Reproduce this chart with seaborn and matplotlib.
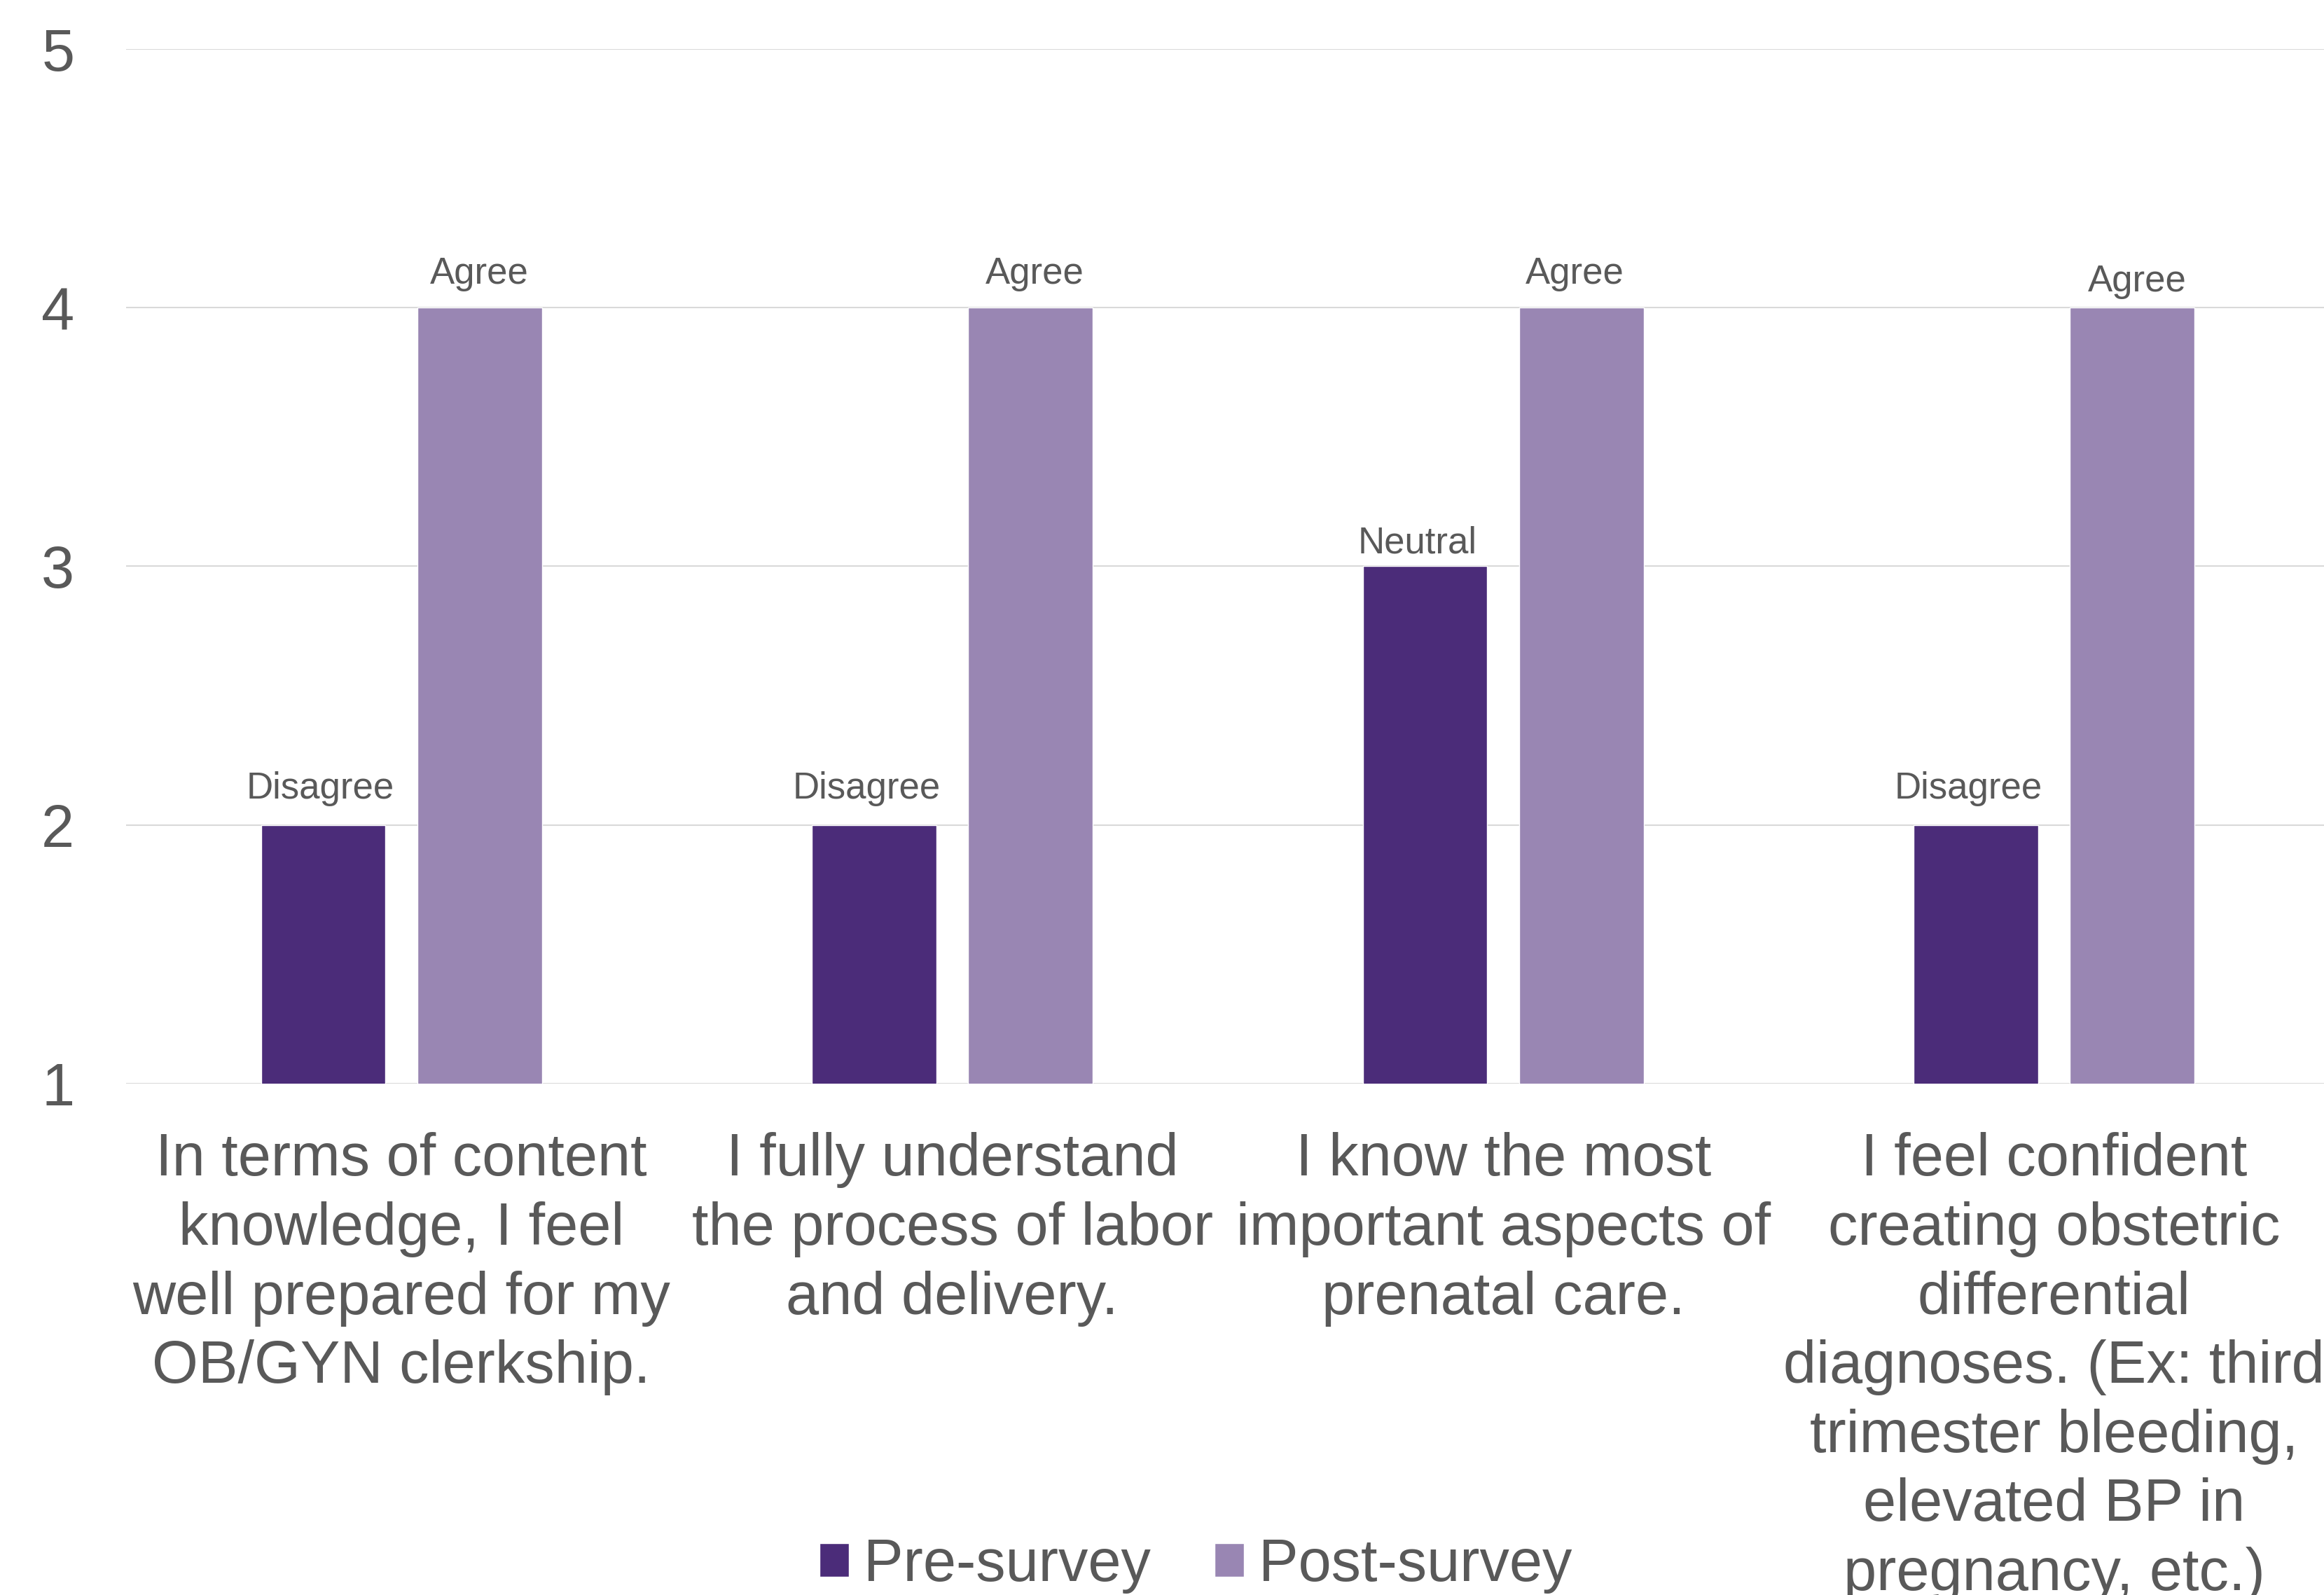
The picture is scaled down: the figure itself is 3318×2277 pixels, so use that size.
import pandas as pd
import matplotlib.pyplot as plt
import seaborn as sns

# Survey data (Likert scale 1-5)
questions = [
    "In terms of content\nknowledge, I feel\nwell prepared for my\nOB/GYN clerkship.",
    "I fully understand\nthe process of labor\nand delivery.",
    "I know the most\nimportant aspects of\nprenatal care.",
    "I feel confident\ncreating obstetric\ndifferential\ndiagnoses. (Ex: third\ntrimester bleeding,\nelevated BP in\npregnancy, etc.)",
]
pre_scores = [2, 2, 3, 2]
post_scores = [4, 4, 4, 4]
pre_labels = ["Disagree", "Disagree", "Neutral", "Disagree"]
post_labels = ["Agree", "Agree", "Agree", "Agree"]
series_names = ["Pre-survey", "Post-survey"]
y_ticks = [1, 2, 3, 4, 5]

df = pd.DataFrame({
    "Question": questions * 2,
    "Score": pre_scores + post_scores,
    "Survey": [series_names[0]] * 4 + [series_names[1]] * 4,
})

sns.set_style("white")
plt.rcParams["font.family"] = ["Liberation Sans", "DejaVu Sans"]
TEXT = "#595959"

fig = plt.figure(figsize=(33.18, 22.77), dpi=100)
ax = fig.add_axes([0.0542, 0.3206, 0.9482, 0.6487])

sns.barplot(data=df, x="Question", y="Score", hue="Survey",
            palette=["#4B2C79", "#9986B3"], width=0.568, gap=0.204,
            saturation=1, ax=ax, zorder=3)

ax.set_ylim(1, 5)
ax.set_xlim(-0.5, 3.5)
ax.set_yticks(y_ticks)
ax.yaxis.grid(True, color="#D9D9D9", linewidth=1.5, zorder=0)
ax.set_axisbelow(True)
for s in ax.spines.values():
    s.set_visible(False)

ax.tick_params(axis="y", length=0, pad=53, labelsize=61, labelcolor=TEXT)
ax.tick_params(axis="x", length=0, pad=50, labelsize=61, labelcolor=TEXT)
for lbl in ax.get_xticklabels():
    lbl.set_linespacing(1.3)
ax.set_xlabel("")
ax.set_ylabel("")

# Data labels above bars (Excel-style placement, slightly uneven)
pre_ann = ax.bar_label(ax.containers[0], labels=pre_labels, padding=14,
                       fontsize=38, color=TEXT)
post_ann = ax.bar_label(ax.containers[1], labels=post_labels, padding=14,
                        fontsize=38, color=TEXT)
for ann, off in zip(pre_ann, [(-3, 19), (-8, 19), (-8, 6), (-8, 19)]):
    ann.xyann = off
for ann, off in zip(post_ann, [(0, 17), (4, 17), (-7, 17), (5, 9)]):
    ann.xyann = off

handles, labels = ax.get_legend_handles_labels()
ax.get_legend().remove()
fig.legend(handles, labels, loc="center", bbox_to_anchor=(0.5145, 0.0184),
           ncol=2, frameon=False, fontsize=61, labelcolor=TEXT,
           handlelength=0.5, handleheight=0.5, handletextpad=0.25,
           columnspacing=1.07)

fig.savefig("out.png", dpi=100)
